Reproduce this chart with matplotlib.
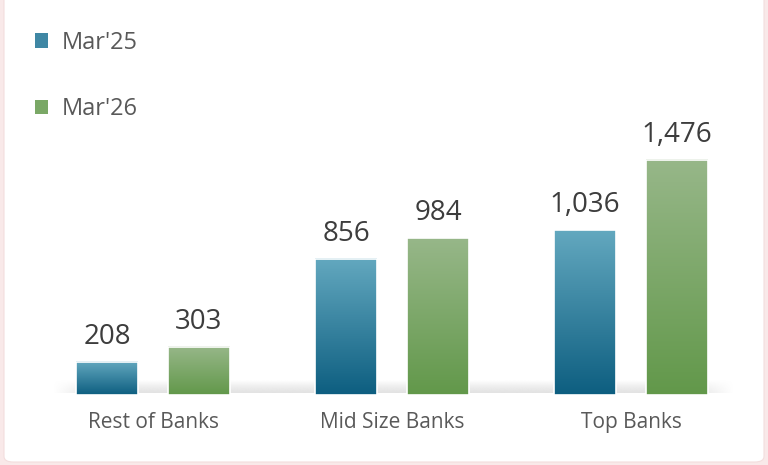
import numpy as np
import matplotlib
matplotlib.use("Agg")
import matplotlib.pyplot as plt
from matplotlib.patches import FancyBboxPatch, Patch
from matplotlib.colors import to_rgb

plt.rcParams['font.family'] = ['Open Sans', 'DejaVu Sans']

# Data
categories = ["Rest of Banks", "Mid Size Banks", "Top Banks"]
series_names = ["Mar'25", "Mar'26"]
mar25 = [208, 856, 1036]
mar26 = [303, 984, 1476]

# Gradient endpoints (top, bottom) for each series
grad_colors = [("#63a8bf", "#0d5e80"), ("#97b789", "#62984a")]
legend_colors = ["#3f87a4", "#7aa866"]

W, H = 768, 465
fig = plt.figure(figsize=(W / 100, H / 100), dpi=100)
fig.patch.set_facecolor("#f9e9e9")

# White card with rounded corners
card = FancyBboxPatch((4 / W, 3 / H), (W - 8) / W, (H + 20) / H,
                      boxstyle="round,pad=0,rounding_size=0.012",
                      transform=fig.transFigure, facecolor="white",
                      edgecolor="#f3dede", linewidth=0.8, zorder=-5)
fig.patches.append(card)

base_px = 395
ax = fig.add_axes([0, (H - base_px) / H, 1, base_px / H])
ax.set_zorder(2)
ax.set_facecolor("none")
px_per_unit = 235 / 1476
ax.set_xlim(-153 / 239, (W - 153) / 239)
ax.set_ylim(0, base_px / px_per_unit)
for s in ax.spines.values():
    s.set_visible(False)
ax.set_yticks([])

x = np.arange(len(categories))
width = 62 / 239
offset = 46 / 239

# Soft shadow band along the baseline
band_h = 13 / px_per_unit
ny, nx = 40, 200
vert = np.linspace(0, 1, ny)[:, None] ** 1.3      # bottom -> top fade
xs = np.linspace(0, 1, nx)[None, :]
horiz = np.clip(np.minimum(xs, 1 - xs) / 0.06, 0, 1)
alpha = (1 - vert) * horiz * 0.55
band = np.zeros((ny, nx, 4))
band[..., :3] = 0.80
band[..., 3] = alpha
ax.imshow(band, extent=[(52 - 153) / 239, (735 - 153) / 239, 2 / px_per_unit, 2 / px_per_unit + band_h],
          origin="lower", aspect="auto", zorder=1, interpolation="bilinear")


def gradient_bars(xpos, vals, cols):
    top, bot = np.array(to_rgb(cols[0])), np.array(to_rgb(cols[1]))
    bars = ax.bar(xpos, vals, width, facecolor="none", edgecolor="white",
                  linewidth=1.2, zorder=4)
    t = np.linspace(0, 1, 256)[:, None]
    img = (bot * (1 - t) + top * t)[:, None, :]
    for b in bars:
        x0, y0 = b.get_x(), b.get_y()
        ax.imshow(img, extent=[x0, x0 + b.get_width(), y0, y0 + b.get_height()],
                  origin="lower", aspect="auto", zorder=3, interpolation="bilinear")
    for b, v in zip(bars, vals):
        ax.annotate(f"{v:,}", (b.get_x() + b.get_width() / 2, b.get_height()),
                    xytext=(0, 8), textcoords="offset points", ha="center", va="bottom",
                    fontsize=20, color="#3d3d3d")
    return bars


gradient_bars(x - offset, mar25, grad_colors[0])
gradient_bars(x + offset, mar26, grad_colors[1])
ax.set_xlim(-153 / 239, (W - 153) / 239)
ax.set_ylim(0, base_px / px_per_unit)

ax.set_xticks(x)
ax.set_xticklabels(categories, fontsize=15, color="#595959")
ax.tick_params(axis="x", length=0, pad=12)

handles = [Patch(facecolor=c, edgecolor="none") for c in legend_colors]
fig.legend(handles, series_names, loc="upper left", bbox_to_anchor=(23 / W, 1 - 19 / H),
           frameon=False, fontsize=17, labelcolor="#595959",
           handlelength=0.55, handleheight=0.55, handletextpad=0.6,
           labelspacing=1.8, borderpad=0)

fig.savefig("out.png", dpi=100, facecolor=fig.get_facecolor())
